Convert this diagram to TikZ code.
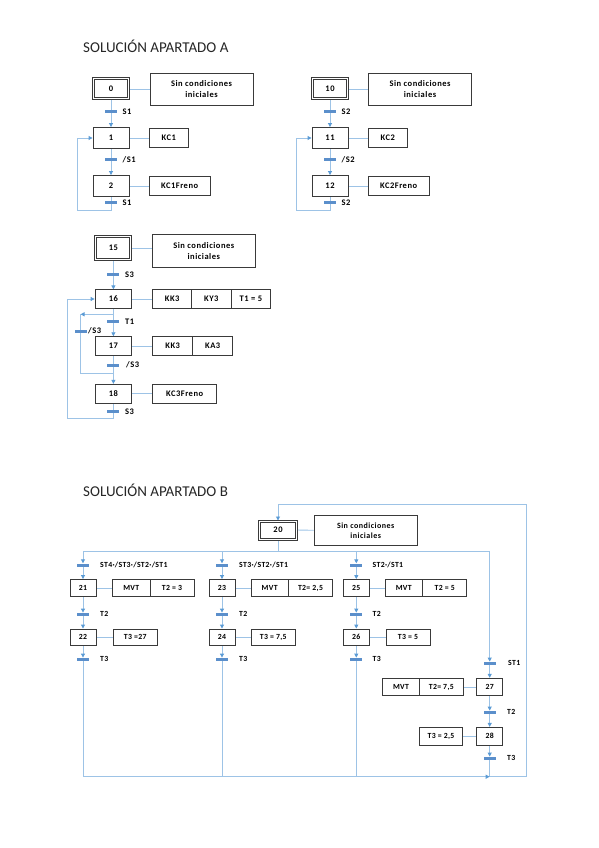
\documentclass[tikz,border=0pt]{standalone}
\usepackage{fontspec}
\setmainfont{Carlito}
\newfontfamily\spfontA[LetterSpace=6]{Carlito}
\newfontfamily\spfontB[LetterSpace=4]{Carlito}
\usetikzlibrary{arrows.meta}
\definecolor{wireblue}{HTML}{9DC3E6}
\definecolor{barblue}{HTML}{5B8FCB}
\definecolor{tipblue}{HTML}{5B9BD5}
\definecolor{boxline}{HTML}{3A3A3A}
\pgfdeclarelayer{bg}
\pgfsetlayers{bg,main}
\tikzset{
  stepA/.style={draw=boxline, line width=0.9pt, fill=white, inner sep=0pt,
    minimum width=36pt, minimum height=21pt, font=\spfontA\bfseries\fontsize{8.5}{9}\selectfont},
  initA/.style={stepA, double=white, double distance=1pt, line width=1pt},
  actA/.style={draw=boxline, line width=0.8pt, fill=white, inner sep=0pt, align=center,
    minimum width=39pt, minimum height=19pt, font=\spfontA\bfseries\fontsize{8.5}{10.5}\selectfont},
  stepB/.style={draw=boxline, line width=0.9pt, fill=white, inner sep=0pt,
    minimum width=26pt, minimum height=17pt, font=\spfontB\bfseries\fontsize{7.8}{9}\selectfont},
  actB/.style={draw=boxline, line width=0.8pt, fill=white, inner sep=0pt,
    minimum width=44pt, minimum height=17pt, font=\spfontB\bfseries\fontsize{7.8}{9}\selectfont},
  trbar/.style={fill=barblue, draw=none, inner sep=0pt, minimum width=12pt, minimum height=3pt},
  lblA/.style={anchor=west, inner sep=0pt, font=\spfontA\bfseries\fontsize{8.5}{9}\selectfont},
  lblB/.style={anchor=west, inner sep=0pt, font=\spfontB\bfseries\fontsize{7.8}{9}\selectfont},
  wire/.style={draw=wireblue, line width=0.9pt},
  arr/.style={-{Triangle[length=4pt,width=4pt,color=tipblue]}},
  title/.style={anchor=west, inner sep=0pt, font=\fontsize{15}{17}\selectfont, text=black!85}
}
\begin{document}
\begin{tikzpicture}[x=1pt,y=-1pt]
\path[use as bounding box] (0,0) rectangle (599,848);

% ---------------- Titles
\node[title] (titleA) at (83,46) {SOLUCIÓN APARTADO A};
\node[title] (titleB) at (83,490) {SOLUCIÓN APARTADO B};

% ---------------- Chart 1
\node[initA, minimum width=35pt, minimum height=20pt] (s0) at (111,89) {0};
\node[actA, minimum width=103pt, minimum height=32pt] (b0) at (201.5,89) {Sin condiciones\\iniciales};
\node[trbar] (t0) at (111,111.7) {};
\node[lblA] (l0) at (122.5,111.7) {S1};
\node[stepA] (s1) at (111,138) {1};
\node[actA] (b1) at (168.8,138) {KC1};
\node[trbar] (t1) at (111,159.3) {};
\node[lblA] (l1) at (122.5,159.3) {/S1};
\node[stepA] (s2) at (111,186) {2};
\node[actA, minimum width=60.7pt] (b2) at (179.7,186) {KC1Freno};
\node[trbar] (t2) at (111,202.7) {};
\node[lblA] (l2) at (122.5,202.7) {S1};
\coordinate (a1) at (111,210);
\coordinate (a2) at (77.3,210);

% ---------------- Chart 2
\node[initA, minimum width=35pt, minimum height=20pt] (s10) at (330,89) {10};
\node[actA, minimum width=103pt, minimum height=32pt] (b10) at (420,89) {Sin condiciones\\iniciales};
\node[trbar] (t10) at (330,111.7) {};
\node[lblA] (l10) at (341.5,111.7) {S2};
\node[stepA] (s11) at (330,138) {11};
\node[actA] (b11) at (387.8,138) {KC2};
\node[trbar] (t11) at (330,159.3) {};
\node[lblA] (l11) at (341.5,159.3) {/S2};
\node[stepA] (s12) at (330,186) {12};
\node[actA, minimum width=60.7pt] (b12) at (398.7,186) {KC2Freno};
\node[trbar] (t12) at (330,202.7) {};
\node[lblA] (l12) at (341.5,202.7) {S2};
\coordinate (a11) at (330,210);
\coordinate (a12) at (296.7,210);

% ---------------- Chart 3
\node[initA, minimum width=35pt, minimum height=23pt] (s15) at (113.4,248) {15};
\node[actA, minimum width=102.3pt, minimum height=32.3pt] (b15) at (203.8,251) {Sin condiciones\\iniciales};
\node[trbar] (t15) at (113.4,274.3) {};
\node[lblA] (l15) at (125,274.3) {S3};
\node[stepA, minimum width=36.7pt, minimum height=18.3pt] (s16) at (113.4,299) {16};
\node[actA, minimum height=18.3pt] (a16a) at (172.2,299) {KK3};
\node[actA, minimum width=39.3pt, minimum height=18.3pt] (a16b) at (211.35,299) {KY3};
\node[actA, minimum width=39.7pt, minimum height=18.3pt] (a16c) at (250.85,299) {T1 = 5};
\coordinate (j16) at (113.4,314.3);
\coordinate (c16a) at (80.5,314.3);
\node[trbar] (t16) at (113.4,321.7) {};
\node[lblA] (l16) at (125,321.7) {T1};
\node[trbar] (tjmp) at (80.5,331) {};
\node[lblA] (ljmp) at (88,331) {/S3};
\node[stepA, minimum width=35.7pt, minimum height=19pt] (s17) at (113.4,346.2) {17};
\node[actA, minimum width=40pt] (a17a) at (172.7,346.2) {KK3};
\node[actA, minimum width=40pt] (a17b) at (212.7,346.2) {KA3};
\node[trbar] (t17) at (113.4,365) {};
\node[lblA] (l17) at (126,365) {/S3};
\coordinate (c16b) at (80.5,373.3);
\coordinate (j18) at (113.4,373.3);
\node[stepA, minimum width=35.7pt, minimum height=19pt] (s18) at (113.4,393.8) {18};
\node[actA, minimum width=64pt] (b18) at (184.7,393.8) {KC3Freno};
\node[trbar] (t18) at (113.4,411.7) {};
\node[lblA] (l18) at (125,411.7) {S3};
\coordinate (a18) at (113.4,418.3);
\coordinate (a19) at (67.3,418.3);

% ---------------- Section B
\node[initA, minimum width=37pt, minimum height=18pt] (s20) at (278,530) {20};
\node[actA, minimum width=103.3pt, minimum height=30.7pt, font=\spfontA\bfseries\fontsize{8}{10}\selectfont] (b20) at (365.7,530.3) {Sin condiciones\\iniciales};
\coordinate (d20) at (278,551);
\coordinate (d1) at (83,551);
\coordinate (d2) at (222,551);
\coordinate (d3) at (356.3,551);
\coordinate (d4) at (489.7,551);
\coordinate (rtop) at (526,504.3);
\coordinate (rbot) at (526,776.7);
\coordinate (e1) at (83,776.7);
\coordinate (e2) at (222,776.7);
\coordinate (e3) at (356.3,776.7);
\coordinate (e4) at (489.7,776.7);

% branch 1
\node[trbar] (t21) at (83,565) {};
\node[lblB] (l21) at (100,565) {ST4·/ST3·/ST2·/ST1};
\node[stepB] (s21) at (83,588) {21};
\node[actB, minimum width=37.3pt] (m21) at (131.3,588) {MVT};
\node[actB] (p21) at (172,588) {T2 = 3};
\node[trbar] (t22) at (83,614.3) {};
\node[lblB] (l22) at (100,614.3) {T2};
\node[stepB, minimum height=16pt] (s22) at (83,637) {22};
\node[actB, minimum height=16pt] (p22) at (135.3,637) {T3 =27};
\node[trbar] (t23) at (83,659.3) {};
\node[lblB] (l23) at (100,659.3) {T3};

% branch 2
\node[trbar] (t31) at (222,565) {};
\node[lblB] (l31) at (239,565) {ST3·/ST2·/ST1};
\node[stepB] (s23) at (222,588) {23};
\node[actB, minimum width=37.3pt] (m23) at (269.7,588) {MVT};
\node[actB, minimum width=44.4pt] (p23) at (310.5,588) {T2= 2,5};
\node[trbar] (t32) at (222,614.3) {};
\node[lblB] (l32) at (239,614.3) {T2};
\node[stepB, minimum height=16pt] (s24) at (222,637) {24};
\node[actB, minimum width=43.3pt, minimum height=16pt] (p24) at (273.3,637) {T3 = 7,5};
\node[trbar] (t33) at (222,659.3) {};
\node[lblB] (l33) at (239,659.3) {T3};

% branch 3
\node[trbar] (t41) at (356.3,565) {};
\node[lblB] (l41) at (372.5,565) {ST2·/ST1};
\node[stepB] (s25) at (356.3,588) {25};
\node[actB, minimum width=37.7pt] (m25) at (403.8,588) {MVT};
\node[actB] (p25) at (444.7,588) {T2 = 5};
\node[trbar] (t42) at (356.3,614.3) {};
\node[lblB] (l42) at (372.5,614.3) {T2};
\node[stepB, minimum height=16pt] (s26) at (356.3,637) {26};
\node[actB, minimum height=16pt] (p26) at (408,637) {T3 = 5};
\node[trbar] (t43) at (356.3,659.3) {};
\node[lblB] (l43) at (372.5,659.3) {T3};

% branch 4
\node[trbar] (t51) at (489.7,663.3) {};
\node[lblB] (l51) at (508,663.3) {ST1};
\node[stepB, minimum height=17.4pt] (s27) at (489.7,687) {27};
\node[actB, minimum width=36.6pt, minimum height=17.4pt] (m27) at (401,687) {MVT};
\node[actB, minimum height=17.4pt] (p27) at (441.3,687) {T2= 7,5};
\node[trbar] (t52) at (489.7,712.3) {};
\node[lblB] (l52) at (507,712.3) {T2};
\node[stepB, minimum height=17.7pt] (s28) at (489.7,736.2) {28};
\node[actB, minimum width=43.4pt, minimum height=17.7pt] (p28) at (441,736.2) {T3 = 2,5};
\node[trbar] (t53) at (489.7,758.3) {};
\node[lblB] (l53) at (507,758.3) {T3};

% ---------------- Wires
\begin{pgfonlayer}{bg}
% chart 1
\draw[wire] (s0.east) -- (b0.west);
\draw[wire] (s0.south) -- (t0.center);
\draw[wire,arr] (t0.center) -- (s1.north);
\draw[wire] (s1.east) -- (b1.west);
\draw[wire] (s1.south) -- (t1.center);
\draw[wire,arr] (t1.center) -- (s2.north);
\draw[wire] (s2.east) -- (b2.west);
\draw[wire,arr] (s2.south) -- (a1) -- (a2) |- (s1.west);
% chart 2
\draw[wire] (s10.east) -- (b10.west);
\draw[wire] (s10.south) -- (t10.center);
\draw[wire,arr] (t10.center) -- (s11.north);
\draw[wire] (s11.east) -- (b11.west);
\draw[wire] (s11.south) -- (t11.center);
\draw[wire,arr] (t11.center) -- (s12.north);
\draw[wire] (s12.east) -- (b12.west);
\draw[wire,arr] (s12.south) -- (a11) -- (a12) |- (s11.west);
% chart 3
\draw[wire] (s15.east) -- (s15.east -| b15.west);
\draw[wire] (s15.south) -- (t15.center);
\draw[wire,arr] (t15.center) -- (s16.north);
\draw[wire] (s16.east) -- (a16a.west);
\draw[wire] (s16.south) -- (t16.center);
\draw[wire,arr] (t16.center) -- (s17.north);
\draw[wire,arr] (j16) -- (c16a);
\draw[wire] (c16a) -- (c16b) -- (j18);
\draw[wire] (s17.east) -- (a17a.west);
\draw[wire] (s17.south) -- (t17.center);
\draw[wire,arr] (t17.center) -- (s18.north);
\draw[wire] (s18.east) -- (b18.west);
\draw[wire,arr] (s18.south) -- (a18) -- (a19) |- (s16.west);
% section B
\draw[wire] (s20.east) -- (b20.west);
\draw[wire] (s20.south) -- (d20);
\draw[wire] (d1) -- (d4);
\draw[wire,arr] (d1) -- (t21.north);
\draw[wire,arr] (t21.south) -- (s21.north);
\draw[wire] (s21.east) -- (m21.west);
\draw[wire,arr] (s21.south) -- (t22.north);
\draw[wire,arr] (t22.south) -- (s22.north);
\draw[wire] (s22.east) -- (p22.west);
\draw[wire,arr] (s22.south) -- (t23.north);
\draw[wire] (t23.south) -- (e1);
\draw[wire,arr] (d2) -- (t31.north);
\draw[wire,arr] (t31.south) -- (s23.north);
\draw[wire] (s23.east) -- (m23.west);
\draw[wire,arr] (s23.south) -- (t32.north);
\draw[wire,arr] (t32.south) -- (s24.north);
\draw[wire] (s24.east) -- (p24.west);
\draw[wire,arr] (s24.south) -- (t33.north);
\draw[wire] (t33.south) -- (e2);
\draw[wire,arr] (d3) -- (t41.north);
\draw[wire,arr] (t41.south) -- (s25.north);
\draw[wire] (s25.east) -- (m25.west);
\draw[wire,arr] (s25.south) -- (t42.north);
\draw[wire,arr] (t42.south) -- (s26.north);
\draw[wire] (s26.east) -- (p26.west);
\draw[wire,arr] (s26.south) -- (t43.north);
\draw[wire] (t43.south) -- (e3);
\draw[wire,arr] (d4) -- (t51.north);
\draw[wire,arr] (t51.south) -- (s27.north);
\draw[wire] (p27.east) -- (s27.west);
\draw[wire,arr] (s27.south) -- (t52.north);
\draw[wire,arr] (t52.south) -- (s28.north);
\draw[wire] (p28.east) -- (s28.west);
\draw[wire,arr] (s28.south) -- (t53.north);
\draw[wire] (t53.south) -- (e4);
\draw[wire,arr] (e1) -- (e4);
\draw[wire,arr] (e4) -- (rbot) -- (rtop) -| (s20.north);
\end{pgfonlayer}
\end{tikzpicture}
\end{document}
